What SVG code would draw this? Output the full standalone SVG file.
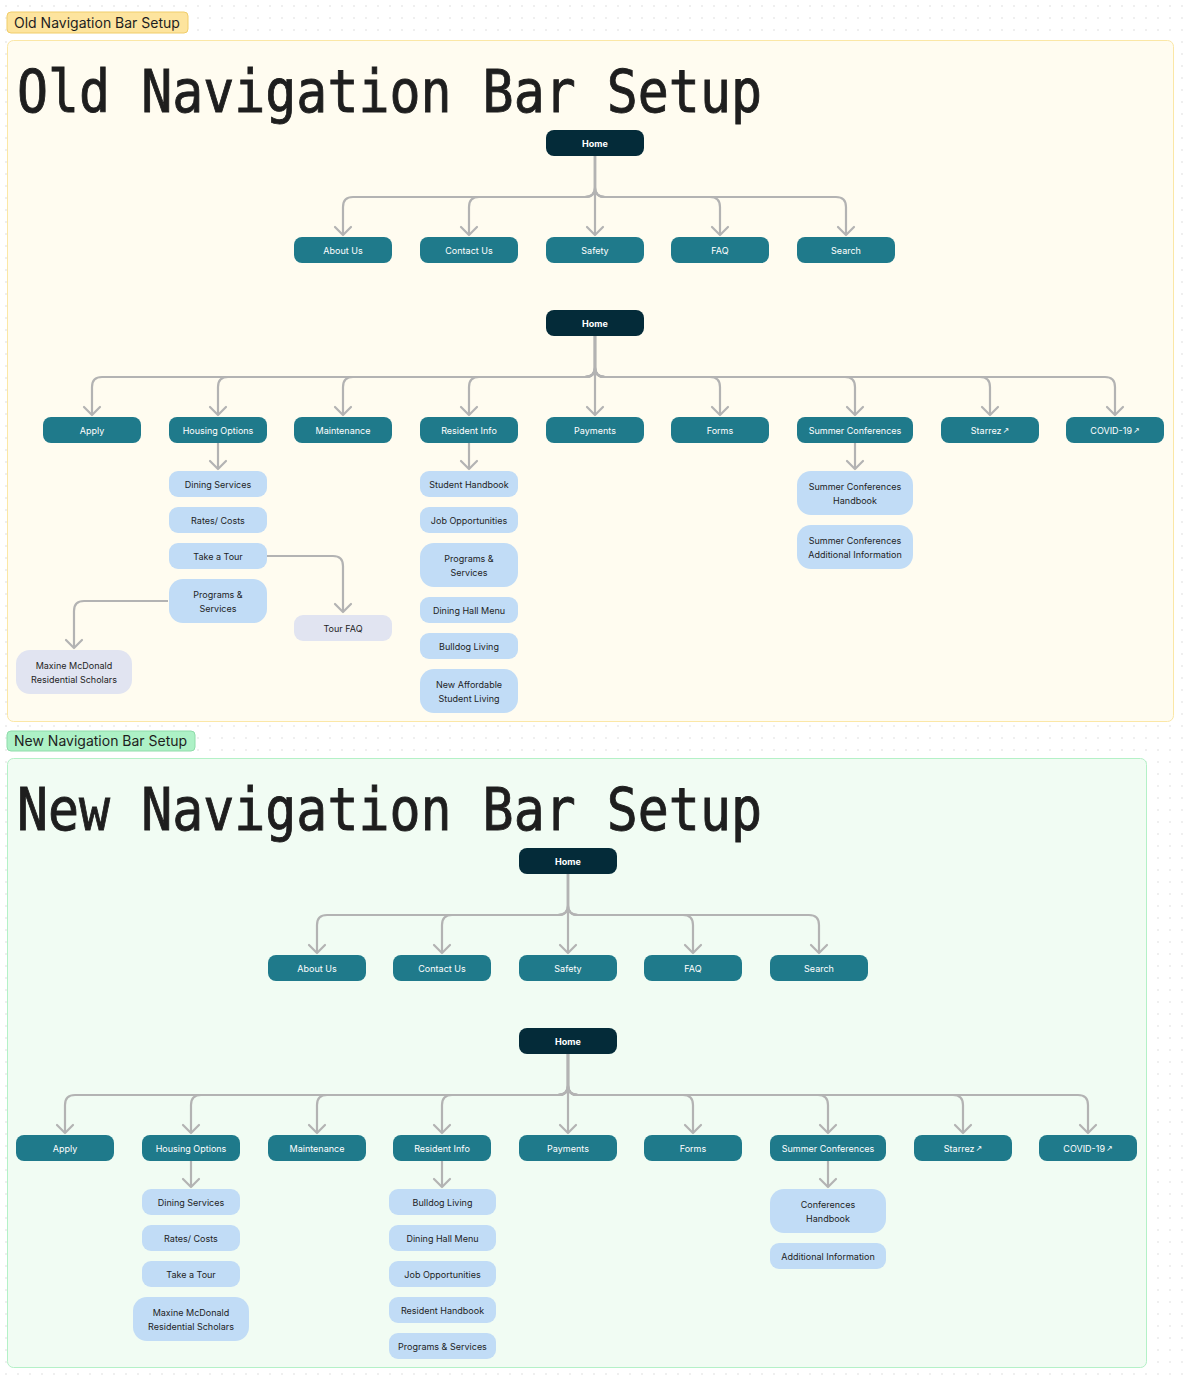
<svg xmlns="http://www.w3.org/2000/svg" width="1183" height="1377" viewBox="0 0 1183 1377">
<defs>
<pattern id="dots" width="12" height="12" patternUnits="userSpaceOnUse">
<circle cx="6" cy="6" r="0.7" fill="#d2d2d2"/>
</pattern>
<marker id="arr" markerUnits="userSpaceOnUse" markerWidth="20" markerHeight="20" refX="10" refY="10" orient="auto" viewBox="0 0 20 20">
<path d="M2,2 L10,10 L2,18" fill="none" stroke="#b3b3b3" stroke-width="2.2" stroke-linecap="round" stroke-linejoin="round"/>
</marker>
<style>
.conn path{fill:none;stroke:#b3b3b3;stroke-width:2.2;marker-end:url(#arr)}
.home{fill:#042b39}
.nav{fill:#1f7a8b}
.sub{fill:#c1dcf6}
.ext{fill:#e1e4f1}
text{font-family:Inter,"Liberation Sans",sans-serif}
.tl{fill:#ffffff;font-size:9px;text-anchor:middle}
.tb{fill:#ffffff;font-size:9px;font-weight:700;text-anchor:middle}
.td{fill:#1e1e1e;font-size:9px;text-anchor:middle}
.lab{fill:#1e1e1e;font-size:14px}
.title{fill:#1e1e1e;stroke:#1e1e1e;stroke-width:0.9;font-family:"DejaVu Sans Mono","Liberation Mono",monospace;font-size:58px}
.sm{font-family:"DejaVu Sans",sans-serif;font-size:8px}
</style>
</defs>
<rect width="1183" height="1377" fill="#ffffff"/>
<rect width="1183" height="1377" fill="url(#dots)"/>

<g id="old-label">
<rect x="7" y="12" width="181" height="21" rx="4" fill="#fde49e" stroke="#f0cd6a"/>
<text class="lab" x="14" y="28">Old Navigation Bar Setup</text>
</g>
<g id="old-frame">
<rect x="7.5" y="40.5" width="1166" height="681" rx="6" fill="#fffcf0" stroke="#fbe7a6"/>
<text class="title" x="17" y="112" textLength="745" lengthAdjust="spacingAndGlyphs">Old Navigation Bar Setup</text>
</g>
<g id="new-label">
<rect x="7" y="731" width="188" height="20" rx="4" fill="#adf1c6" stroke="#8fdcaa"/>
<text class="lab" x="14" y="746">New Navigation Bar Setup</text>
</g>
<g id="new-frame">
<rect x="7.5" y="758.5" width="1139" height="609" rx="6" fill="#f1fcf3" stroke="#b4f1c7"/>
<text class="title" x="17" y="830" textLength="745" lengthAdjust="spacingAndGlyphs">New Navigation Bar Setup</text>
</g>

<g id="connectors" class="conn">
<!-- old top tree -->
<path d="M595,156 V187 Q595,197 585,197 H353 Q343,197 343,207 V235"/>
<path d="M595,156 V187 Q595,197 585,197 H479 Q469,197 469,207 V235"/>
<path d="M595,156 V235"/>
<path d="M595,156 V187 Q595,197 605,197 H710 Q720,197 720,207 V235"/>
<path d="M595,156 V187 Q595,197 605,197 H836 Q846,197 846,207 V235"/>
<!-- old second tree -->
<path d="M595,336 V367 Q595,377 585,377 H102 Q92,377 92,387 V415"/>
<path d="M595,336 V367 Q595,377 585,377 H228 Q218,377 218,387 V415"/>
<path d="M595,336 V367 Q595,377 585,377 H353 Q343,377 343,387 V415"/>
<path d="M595,336 V367 Q595,377 585,377 H479 Q469,377 469,387 V415"/>
<path d="M595,336 V415"/>
<path d="M595,336 V367 Q595,377 605,377 H710 Q720,377 720,387 V415"/>
<path d="M595,336 V367 Q595,377 605,377 H845 Q855,377 855,387 V415"/>
<path d="M595,336 V367 Q595,377 605,377 H980 Q990,377 990,387 V415"/>
<path d="M595,336 V367 Q595,377 605,377 H1105 Q1115,377 1115,387 V415"/>
<path d="M218,443 V469"/>
<path d="M469,443 V469"/>
<path d="M855,443 V469"/>
<path d="M267,556 H333 Q343,556 343,566 V612"/>
<path d="M168,601 H84 Q74,601 74,611 V648"/>
<!-- new top tree -->
<path d="M568,874 V905 Q568,915 558,915 H327 Q317,915 317,925 V953"/>
<path d="M568,874 V905 Q568,915 558,915 H452 Q442,915 442,925 V953"/>
<path d="M568,874 V953"/>
<path d="M568,874 V905 Q568,915 578,915 H683 Q693,915 693,925 V953"/>
<path d="M568,874 V905 Q568,915 578,915 H809 Q819,915 819,925 V953"/>
<!-- new second tree -->
<path d="M568,1054 V1085 Q568,1095 558,1095 H75 Q65,1095 65,1105 V1133"/>
<path d="M568,1054 V1085 Q568,1095 558,1095 H201 Q191,1095 191,1105 V1133"/>
<path d="M568,1054 V1085 Q568,1095 558,1095 H327 Q317,1095 317,1105 V1133"/>
<path d="M568,1054 V1085 Q568,1095 558,1095 H452 Q442,1095 442,1105 V1133"/>
<path d="M568,1054 V1133"/>
<path d="M568,1054 V1085 Q568,1095 578,1095 H683 Q693,1095 693,1105 V1133"/>
<path d="M568,1054 V1085 Q568,1095 578,1095 H818 Q828,1095 828,1105 V1133"/>
<path d="M568,1054 V1085 Q568,1095 578,1095 H953 Q963,1095 963,1105 V1133"/>
<path d="M568,1054 V1085 Q568,1095 578,1095 H1078 Q1088,1095 1088,1105 V1133"/>
<path d="M191,1161 V1187"/>
<path d="M442,1161 V1187"/>
<path d="M828,1161 V1187"/>
</g>

<!-- OLD: top tree -->
<g id="o-home1"><rect class="home" x="546" y="130" width="98" height="26" rx="8"/><text class="tb" x="595" y="146.8">Home</text></g>
<g id="o-about"><rect class="nav" x="294" y="237" width="98" height="26" rx="8"/><text class="tl" x="343" y="253.8">About Us</text></g>
<g id="o-contact"><rect class="nav" x="420" y="237" width="98" height="26" rx="8"/><text class="tl" x="469" y="253.8">Contact Us</text></g>
<g id="o-safety"><rect class="nav" x="546" y="237" width="98" height="26" rx="8"/><text class="tl" x="595" y="253.8">Safety</text></g>
<g id="o-faq"><rect class="nav" x="671" y="237" width="98" height="26" rx="8"/><text class="tl" x="720" y="253.8">FAQ</text></g>
<g id="o-search"><rect class="nav" x="797" y="237" width="98" height="26" rx="8"/><text class="tl" x="846" y="253.8">Search</text></g>

<!-- OLD: second tree -->
<g id="o-home2"><rect class="home" x="546" y="310" width="98" height="26" rx="8"/><text class="tb" x="595" y="326.8">Home</text></g>
<g id="o-apply"><rect class="nav" x="43" y="417" width="98" height="26" rx="8"/><text class="tl" x="92" y="433.8">Apply</text></g>
<g id="o-housing"><rect class="nav" x="169" y="417" width="98" height="26" rx="8"/><text class="tl" x="218" y="433.8">Housing Options</text></g>
<g id="o-maint"><rect class="nav" x="294" y="417" width="98" height="26" rx="8"/><text class="tl" x="343" y="433.8">Maintenance</text></g>
<g id="o-resident"><rect class="nav" x="420" y="417" width="98" height="26" rx="8"/><text class="tl" x="469" y="433.8">Resident Info</text></g>
<g id="o-payments"><rect class="nav" x="546" y="417" width="98" height="26" rx="8"/><text class="tl" x="595" y="433.8">Payments</text></g>
<g id="o-forms"><rect class="nav" x="671" y="417" width="98" height="26" rx="8"/><text class="tl" x="720" y="433.8">Forms</text></g>
<g id="o-summer"><rect class="nav" x="797" y="417" width="116" height="26" rx="8"/><text class="tl" x="855" y="433.8">Summer Conferences</text></g>
<g id="o-starrez"><rect class="nav" x="941" y="417" width="98" height="26" rx="8"/><text class="tl" x="990" y="433.8">Starrez<tspan class="sm" dx="1" dy="-0.5">↗</tspan></text></g>
<g id="o-covid"><rect class="nav" x="1066" y="417" width="98" height="26" rx="8"/><text class="tl" x="1115" y="433.8">COVID-19<tspan class="sm" dx="1" dy="-0.5">↗</tspan></text></g>

<g id="o-dining"><rect class="sub" x="169" y="471" width="98" height="26" rx="9"/><text class="td" x="218" y="487.8">Dining Services</text></g>
<g id="o-rates"><rect class="sub" x="169" y="507" width="98" height="26" rx="9"/><text class="td" x="218" y="523.8">Rates/ Costs</text></g>
<g id="o-tour"><rect class="sub" x="169" y="543" width="98" height="26" rx="9"/><text class="td" x="218" y="559.8">Take a Tour</text></g>
<g id="o-programs"><rect class="sub" x="169" y="579" width="98" height="44" rx="14"/><text class="td" x="218" y="597.8">Programs &amp;</text><text class="td" x="218" y="611.8">Services</text></g>
<g id="o-tourfaq"><rect class="ext" x="294" y="615" width="98" height="26" rx="9"/><text class="td" x="343" y="631.8">Tour FAQ</text></g>
<g id="o-maxine"><rect class="ext" x="16" y="650" width="116" height="44" rx="14"/><text class="td" x="74" y="668.8">Maxine McDonald</text><text class="td" x="74" y="682.8">Residential Scholars</text></g>

<g id="o-handbook"><rect class="sub" x="420" y="471" width="98" height="26" rx="9"/><text class="td" x="469" y="487.8">Student Handbook</text></g>
<g id="o-jobs"><rect class="sub" x="420" y="507" width="98" height="26" rx="9"/><text class="td" x="469" y="523.8">Job Opportunities</text></g>
<g id="o-programs2"><rect class="sub" x="420" y="543" width="98" height="44" rx="14"/><text class="td" x="469" y="561.8">Programs &amp;</text><text class="td" x="469" y="575.8">Services</text></g>
<g id="o-dininghall"><rect class="sub" x="420" y="597" width="98" height="26" rx="9"/><text class="td" x="469" y="613.8">Dining Hall Menu</text></g>
<g id="o-bulldog"><rect class="sub" x="420" y="633" width="98" height="26" rx="9"/><text class="td" x="469" y="649.8">Bulldog Living</text></g>
<g id="o-affordable"><rect class="sub" x="420" y="669" width="98" height="44" rx="14"/><text class="td" x="469" y="687.8">New Affordable</text><text class="td" x="469" y="701.8">Student Living</text></g>

<g id="o-sc-handbook"><rect class="sub" x="797" y="471" width="116" height="44" rx="14"/><text class="td" x="855" y="489.8">Summer Conferences</text><text class="td" x="855" y="503.8">Handbook</text></g>
<g id="o-sc-info"><rect class="sub" x="797" y="525" width="116" height="44" rx="14"/><text class="td" x="855" y="543.8">Summer Conferences</text><text class="td" x="855" y="557.8">Additional Information</text></g>

<!-- NEW: top tree -->
<g id="n-home1"><rect class="home" x="519" y="848" width="98" height="26" rx="8"/><text class="tb" x="568" y="864.8">Home</text></g>
<g id="n-about"><rect class="nav" x="268" y="955" width="98" height="26" rx="8"/><text class="tl" x="317" y="971.8">About Us</text></g>
<g id="n-contact"><rect class="nav" x="393" y="955" width="98" height="26" rx="8"/><text class="tl" x="442" y="971.8">Contact Us</text></g>
<g id="n-safety"><rect class="nav" x="519" y="955" width="98" height="26" rx="8"/><text class="tl" x="568" y="971.8">Safety</text></g>
<g id="n-faq"><rect class="nav" x="644" y="955" width="98" height="26" rx="8"/><text class="tl" x="693" y="971.8">FAQ</text></g>
<g id="n-search"><rect class="nav" x="770" y="955" width="98" height="26" rx="8"/><text class="tl" x="819" y="971.8">Search</text></g>

<!-- NEW: second tree -->
<g id="n-home2"><rect class="home" x="519" y="1028" width="98" height="26" rx="8"/><text class="tb" x="568" y="1044.8">Home</text></g>
<g id="n-apply"><rect class="nav" x="16" y="1135" width="98" height="26" rx="8"/><text class="tl" x="65" y="1151.8">Apply</text></g>
<g id="n-housing"><rect class="nav" x="142" y="1135" width="98" height="26" rx="8"/><text class="tl" x="191" y="1151.8">Housing Options</text></g>
<g id="n-maint"><rect class="nav" x="268" y="1135" width="98" height="26" rx="8"/><text class="tl" x="317" y="1151.8">Maintenance</text></g>
<g id="n-resident"><rect class="nav" x="393" y="1135" width="98" height="26" rx="8"/><text class="tl" x="442" y="1151.8">Resident Info</text></g>
<g id="n-payments"><rect class="nav" x="519" y="1135" width="98" height="26" rx="8"/><text class="tl" x="568" y="1151.8">Payments</text></g>
<g id="n-forms"><rect class="nav" x="644" y="1135" width="98" height="26" rx="8"/><text class="tl" x="693" y="1151.8">Forms</text></g>
<g id="n-summer"><rect class="nav" x="770" y="1135" width="116" height="26" rx="8"/><text class="tl" x="828" y="1151.8">Summer Conferences</text></g>
<g id="n-starrez"><rect class="nav" x="914" y="1135" width="98" height="26" rx="8"/><text class="tl" x="963" y="1151.8">Starrez<tspan class="sm" dx="1" dy="-0.5">↗</tspan></text></g>
<g id="n-covid"><rect class="nav" x="1039" y="1135" width="98" height="26" rx="8"/><text class="tl" x="1088" y="1151.8">COVID-19<tspan class="sm" dx="1" dy="-0.5">↗</tspan></text></g>

<g id="n-dining"><rect class="sub" x="142" y="1189" width="98" height="26" rx="9"/><text class="td" x="191" y="1205.8">Dining Services</text></g>
<g id="n-rates"><rect class="sub" x="142" y="1225" width="98" height="26" rx="9"/><text class="td" x="191" y="1241.8">Rates/ Costs</text></g>
<g id="n-tour"><rect class="sub" x="142" y="1261" width="98" height="26" rx="9"/><text class="td" x="191" y="1277.8">Take a Tour</text></g>
<g id="n-maxine"><rect class="sub" x="133" y="1297" width="116" height="44" rx="14"/><text class="td" x="191" y="1315.8">Maxine McDonald</text><text class="td" x="191" y="1329.8">Residential Scholars</text></g>

<g id="n-bulldog"><rect class="sub" x="389" y="1189" width="107" height="26" rx="9"/><text class="td" x="442.5" y="1205.8">Bulldog Living</text></g>
<g id="n-dininghall"><rect class="sub" x="389" y="1225" width="107" height="26" rx="9"/><text class="td" x="442.5" y="1241.8">Dining Hall Menu</text></g>
<g id="n-jobs"><rect class="sub" x="389" y="1261" width="107" height="26" rx="9"/><text class="td" x="442.5" y="1277.8">Job Opportunities</text></g>
<g id="n-reshandbook"><rect class="sub" x="389" y="1297" width="107" height="26" rx="9"/><text class="td" x="442.5" y="1313.8">Resident Handbook</text></g>
<g id="n-programs"><rect class="sub" x="389" y="1333" width="107" height="26" rx="9"/><text class="td" x="442.5" y="1349.8">Programs &amp; Services</text></g>

<g id="n-conf-handbook"><rect class="sub" x="770" y="1189" width="116" height="44" rx="14"/><text class="td" x="828" y="1207.8">Conferences</text><text class="td" x="828" y="1221.8">Handbook</text></g>
<g id="n-addinfo"><rect class="sub" x="770" y="1243" width="116" height="26" rx="9"/><text class="td" x="828" y="1259.8">Additional Information</text></g>
</svg>
